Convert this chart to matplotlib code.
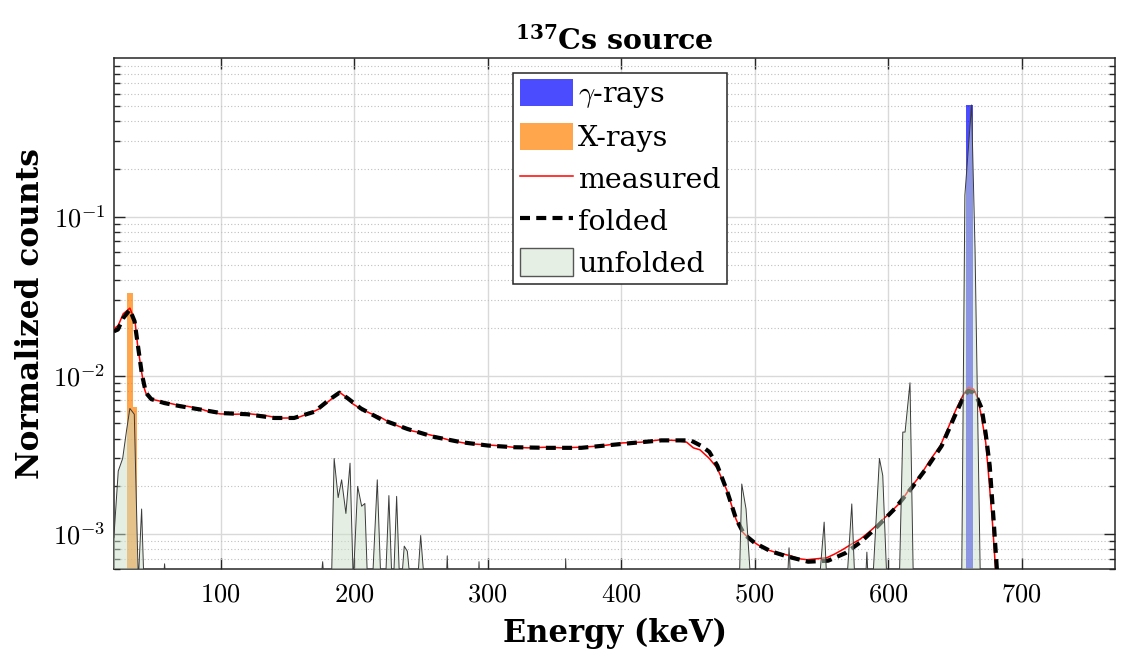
import numpy as np
import matplotlib
matplotlib.use("Agg")
import matplotlib.pyplot as plt
from matplotlib.patches import Patch
from matplotlib.lines import Line2D
from matplotlib.ticker import FixedLocator, FuncFormatter, LogLocator, NullFormatter

# ---------------- Data ----------------
E_meas = [20, 23.3, 27, 32, 35.8, 37.8, 40.8, 43, 44.6, 49.5, 58, 67, 75, 84.5, 92, 99.5,
          110, 122, 133, 144, 152, 159, 167, 174, 182, 189, 194, 199, 206, 213, 219, 224,
          233, 242, 253, 264, 272, 282, 290, 300, 310, 319, 330, 344, 355, 369, 385, 401,
          415, 429, 440, 449, 454, 459, 466, 472, 479, 486, 490, 496, 503, 509, 515, 521,
          527, 533, 539, 547, 554, 560, 566, 572, 579, 585, 591, 600, 609, 616, 624, 631,
          639, 645, 651, 656, 660, 664, 667, 670, 673, 675, 678, 681]
measured = [0.0197, 0.0207, 0.0245, 0.0266, 0.0222, 0.0155, 0.0105, 0.0082, 0.0075, 0.00705,
            0.0068, 0.00653, 0.0064, 0.00617, 0.0059, 0.00573, 0.0057, 0.00573, 0.0056, 0.00539,
            0.0054, 0.00548, 0.0058, 0.00617, 0.0070, 0.00785, 0.0073, 0.00662, 0.0061, 0.00573,
            0.0055, 0.0052, 0.0048, 0.0045, 0.0043, 0.00408, 0.0039, 0.00376, 0.0037, 0.00365,
            0.0036, 0.00353, 0.0035, 0.00353, 0.0035, 0.00353, 0.0036, 0.00376, 0.0038, 0.00393,
            0.0039, 0.0038, 0.0035, 0.0034, 0.0030, 0.0026, 0.0019, 0.00124, 0.00105, 0.00093,
            0.00085, 0.0008, 0.00077, 0.00075, 0.00073, 0.0007, 0.00069, 0.0007, 0.00071, 0.00075,
            0.0008, 0.00086, 0.00093, 0.00102, 0.00113, 0.00133, 0.00158, 0.00193, 0.00234, 0.0029,
            0.00361, 0.0047, 0.00617, 0.0075, 0.0084, 0.0082, 0.0072, 0.0054, 0.0038, 0.00245,
            0.0012, 0.0005]

E_fold = [20, 23, 27, 32, 35.5, 38, 41, 44, 48, 58, 70, 85, 100, 120, 140, 155, 170, 182,
          189, 195, 205, 220, 240, 260, 280, 300, 320, 345, 370, 400, 430, 452, 460, 466,
          472, 479, 486, 492, 500, 512, 525, 540, 555, 568, 580, 592, 605, 618, 630, 640,
          650, 656, 660, 664, 667, 670, 673, 676, 679, 682]
folded = [0.019, 0.0195, 0.023, 0.026, 0.022, 0.0155, 0.0102, 0.0078, 0.0071, 0.0067,
          0.0064, 0.0061, 0.0058, 0.0057, 0.0054, 0.0054, 0.0059, 0.0071,
          0.0078, 0.0072, 0.0062, 0.0053, 0.0046, 0.0041, 0.0038, 0.00362, 0.00353, 0.0035,
          0.0035, 0.0037, 0.0039, 0.0039, 0.0036, 0.0033,
          0.0027, 0.0019, 0.00125, 0.001, 0.00088, 0.00078, 0.00072, 0.00067, 0.00068, 0.00076,
          0.0009, 0.00112, 0.00145, 0.00198, 0.0027, 0.0036,
          0.0056, 0.0072, 0.008, 0.0078, 0.0071, 0.0062, 0.0043, 0.0027, 0.0012, 0.0005]

# zero bins of the unfolded spectrum sit just under the axis floor
E_unf = [20, 23.3, 26.6, 29.5, 32, 35.3, 38.3, 40.8, 42.5, 57, 58, 59, 175, 176.4, 177.5,
         183, 185, 188, 190.6, 193.8, 196.9, 199.3, 202.6, 205.6, 208, 210, 213.7, 217.3, 220,
         223.5, 226, 228.3, 229.5, 231.8, 234, 235.5, 237.5, 239.8, 242, 247.5, 249.8, 252.5,
         269, 269.7, 270.5, 293, 293.5, 294, 358, 358.4, 359, 488.5, 490.3, 493.5, 497,
         524.5, 525.7, 527, 548.4, 552, 554, 569, 572.7, 575, 583, 584, 585, 588.4, 593.4,
         595.9, 599, 608.3, 610.9, 612.6, 616.3, 618.8, 655, 657.4, 662.4, 665, 669, 770]
unfolded = [0.00095, 0.0025, 0.003, 0.0045, 0.0062, 0.0057, 5e-4, 0.00144, 5e-4, 5e-4, 0.00065, 5e-4,
            5e-4, 0.00067, 5e-4, 5e-4, 0.003, 0.0017, 0.0022, 0.00135, 0.0028, 5e-4, 0.002, 0.0015,
            0.00156, 5e-4, 5e-4, 0.0022, 5e-4, 5e-4, 0.00175, 5e-4, 5e-4, 0.00173, 5e-4, 5e-4,
            0.00084, 0.00078, 5e-4, 5e-4, 0.00098, 5e-4, 5e-4, 0.00073, 5e-4, 5e-4, 0.00067, 5e-4,
            5e-4, 0.0007, 5e-4, 5e-4, 0.00207, 0.00144, 5e-4, 5e-4, 0.00082, 5e-4, 5e-4, 0.00119,
            5e-4, 5e-4, 0.00155, 5e-4, 5e-4, 0.00077, 5e-4, 5e-4, 0.003, 0.00234, 5e-4, 5e-4,
            0.0044, 0.0044, 0.009, 5e-4, 5e-4, 0.137, 0.508, 0.063, 5e-4, 5e-4]

E_gamma = [660.8]
gamma_int = [0.508]
gamma_w = [5.0]
E_xray = [32.2, 36.0]
xray_int = [0.0333, 0.00634]
xray_w = [4.5, 3.0]

# ---------------- Plot ----------------
plt.rcParams['mathtext.fontset'] = 'cm'
plt.rcParams['font.family'] = 'DejaVu Serif'

fig = plt.figure(figsize=(11.25, 6.59), dpi=100)
ax = fig.add_axes([0.1012, 0.1361, 0.8901, 0.7754])

ax.bar(E_gamma, gamma_int, width=gamma_w, bottom=1e-6, color=(0, 0, 1), alpha=0.7, zorder=2)
ax.bar(E_xray, xray_int, width=xray_w, bottom=1e-6, color=(1, 0.5, 0), alpha=0.7, zorder=2)
ax.plot(E_meas, measured, color='red', lw=1.1, zorder=3)
ax.plot(E_fold, folded, color='black', lw=3.0, dashes=(2.4, 1.5), zorder=4)
ax.fill_between(E_unf, unfolded, 1e-6, facecolor='#cbdfc7', alpha=0.5, lw=0, zorder=5)
ax.plot(E_unf, unfolded, color='#3a3a3a', lw=0.7, zorder=6)

ax.set_yscale('log')
ax.set_xlim(20, 770)
ax.set_ylim(6e-4, 1)

ax.xaxis.set_major_locator(FixedLocator([100, 200, 300, 400, 500, 600, 700]))
ax.xaxis.set_major_formatter(FuncFormatter(lambda v, p: r'$%d$' % v))
ax.yaxis.set_major_locator(FixedLocator([1e-3, 1e-2, 1e-1]))
ax.yaxis.set_major_formatter(FuncFormatter(lambda v, p: r'$10^{%d}$' % round(np.log10(v))))
ax.yaxis.set_minor_locator(LogLocator(base=10, subs=np.arange(2, 10)))
ax.yaxis.set_minor_formatter(NullFormatter())

ax.tick_params(which='both', direction='in', top=True, right=True, color='#262626', labelsize=19)
ax.tick_params(which='major', length=8, width=1.0)
ax.tick_params(which='minor', length=4.5, width=1.0)
ax.tick_params(axis='x', pad=9)
ax.tick_params(axis='y', pad=6)

ax.grid(True, which='major', color='#d9d9d9', lw=1.0, zorder=0)
ax.grid(True, which='minor', axis='y', color='#bfbfbf', lw=0.8, ls=(0, (1, 2)), zorder=0)
ax.set_axisbelow(True)
for s in ax.spines.values():
    s.set_color('#262626')
    s.set_linewidth(1.1)

ax.set_xlabel('Energy (keV)', fontsize=22, fontweight='bold')
ax.set_ylabel('Normalized counts', fontsize=22.5, fontweight='bold')
ax.xaxis.set_label_coords(0.5, -0.095)
ax.yaxis.set_label_coords(-0.068, 0.5)
ax.set_title(r'$\mathbf{^{137}}$Cs source', fontsize=20.5, fontweight='bold', pad=6,
             math_fontfamily='dejavuserif')

handles = [Patch(facecolor=(0, 0, 1), alpha=0.7, edgecolor='none'),
           Patch(facecolor=(1, 0.5, 0), alpha=0.7, edgecolor='none'),
           Line2D([], [], color='red', lw=1.1),
           Line2D([], [], color='black', lw=3.0, dashes=(2.4, 1.5)),
           Patch(facecolor='#e5efe3', edgecolor='#555555', lw=1.0)]
labels = [r'$\gamma$-rays', 'X-rays', 'measured', 'folded', 'unfolded']
leg = ax.legend(handles, labels, loc='upper left', bbox_to_anchor=(0.4563, 0.8897),
                bbox_transform=fig.transFigure, fontsize=20.5, fancybox=False, framealpha=1,
                edgecolor='#262626', handlelength=1.86, handleheight=1.1, handletextpad=0.2,
                labelspacing=0.44, borderpad=0.22, borderaxespad=0)
leg.get_frame().set_linewidth(1.1)
for t in leg.get_texts():
    t.set_math_fontfamily('cm')

fig.savefig('out.png', dpi=100)
